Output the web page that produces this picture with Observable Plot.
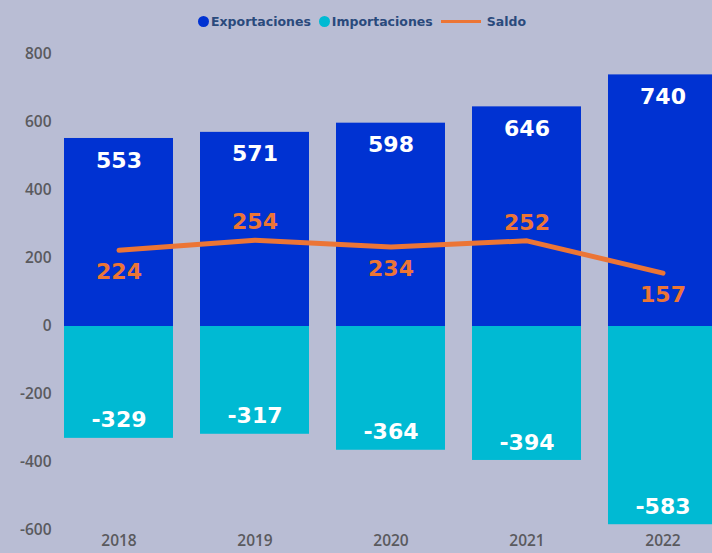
<!DOCTYPE html>
<html>
<head>
<meta charset="utf-8">
<script src="https://cdn.jsdelivr.net/npm/d3@7"></script>
<script src="https://cdn.jsdelivr.net/npm/@observablehq/plot@0.6"></script>
<style>
  html, body { margin: 0; padding: 0; background: #b9bdd4; width: 712px; height: 553px; overflow: hidden; }
  #legend { height: 34px; display: flex; justify-content: center; align-items: center; gap: 8px;
    font-family: "DejaVu Sans", Verdana, sans-serif; font-weight: bold; font-size: 12.5px; color: #2a4a7c; padding-left: 12px; box-sizing: border-box; padding-top: 8px; }
  .item { display: flex; align-items: center; gap: 2px; }
  .dot { width: 11px; height: 11px; border-radius: 50%; display: inline-block; }
  .ln { width: 40px; height: 3px; display: inline-block; margin-right: 4px; }
  #chart svg { display: block; }
</style>
</head>
<body>
<div id="legend"></div>
<div id="chart"></div>
<script>
const years = ["2018", "2019", "2020", "2021", "2022"];
const exportaciones = [553, 571, 598, 646, 740];
const importaciones = [-329, -317, -364, -394, -583];
const saldo = [224, 254, 234, 252, 157];
const yTicks = [-600, -400, -200, 0, 200, 400, 600, 800];

const seriesNames = ["Exportaciones", "Importaciones", "Saldo"];
const colors = { Exportaciones: "#0032d2", Importaciones: "#00bad3", Saldo: "#ec7535" };

const legend = document.getElementById("legend");
seriesNames.forEach(name => {
  const it = document.createElement("span");
  it.className = "item";
  const sw = document.createElement("span");
  sw.className = name === "Saldo" ? "ln" : "dot";
  sw.style.background = colors[name];
  it.appendChild(sw);
  it.appendChild(document.createTextNode(name));
  legend.appendChild(it);
});

const fmt = d => String(d);
const exp = years.map((y, i) => ({ year: y, value: exportaciones[i] }));
const imp = years.map((y, i) => ({ year: y, value: importaciones[i] }));
const sal = years.map((y, i) => ({ year: y, value: saldo[i], i }));

const valueFont = { fontFamily: "DejaVu Sans, Verdana, sans-serif", fontWeight: "bold", fontSize: 22 };

const chart = Plot.plot({
  width: 712,
  height: 519,
  marginLeft: 64,
  marginRight: 0,
  marginTop: 20,
  marginBottom: 23,
  style: { background: "transparent", fontFamily: "Open Sans, sans-serif", fontSize: "15.5px", fontWeight: "600", color: "#5a5a5e" },
  x: { domain: years, range: [64, 717], paddingInner: 0.2, paddingOuter: 0, label: null, tickSize: 0, tickPadding: 4 },
  y: { domain: [-600, 800], ticks: yTicks, tickFormat: fmt, label: null, tickSize: 0, tickPadding: 13 },
  marks: [
    Plot.barY(exp, { x: "year", y: "value", fill: colors.Exportaciones }),
    Plot.barY(imp, { x: "year", y: "value", fill: colors.Importaciones }),
    Plot.text(exp, { x: "year", y: "value", text: d => fmt(d.value), dy: 22, fill: "white", ...valueFont }),
    Plot.text(imp, { x: "year", y: "value", text: d => fmt(d.value), dy: -18, fill: "white", ...valueFont }),
    Plot.lineY(sal, { x: "year", y: "value", stroke: colors.Saldo, strokeWidth: 5 }),
    Plot.text(sal, { x: "year", y: "value", text: d => fmt(d.value), fill: colors.Saldo, ...valueFont, filter: d => d.i % 2 === 0, dy: 22 }),
    Plot.text(sal, { x: "year", y: "value", text: d => fmt(d.value), fill: colors.Saldo, ...valueFont, filter: d => d.i % 2 === 1, dy: -18 })
  ]
});
document.getElementById("chart").appendChild(chart);
</script>
</body>
</html>
